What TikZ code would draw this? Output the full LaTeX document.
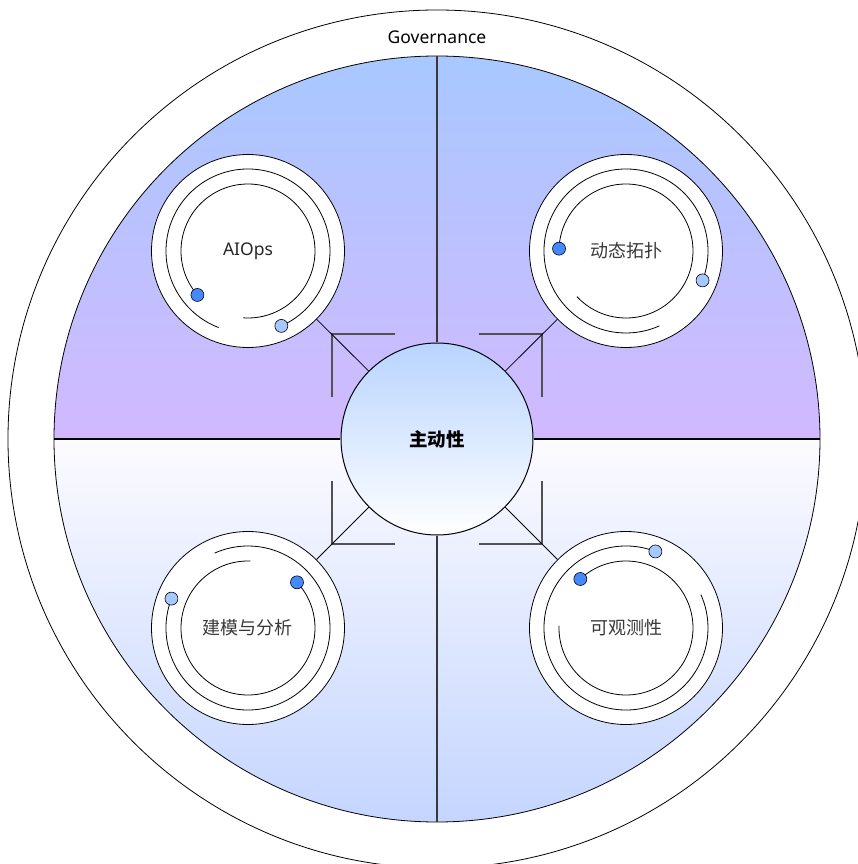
\documentclass[tikz,border=0pt]{standalone}
\usepackage{fontspec}
\setmainfont{Noto Sans}
\newfontfamily\cjk{Noto Sans CJK SC}
\usepackage{tikz}
\usetikzlibrary{positioning}
\definecolor{topblue}{HTML}{A8C8FF}
\definecolor{midpurple}{HTML}{D2B9FF}
\definecolor{paleviolet}{HTML}{FCFBFF}
\definecolor{lavender}{HTML}{E2DAFF}
\definecolor{lowblue}{HTML}{C4D5FF}
\definecolor{coreblue}{HTML}{B8D4FF}
\definecolor{dotblue}{HTML}{4589FF}
\definecolor{dotpale}{HTML}{A6C8FF}
\definecolor{bracegray}{HTML}{525252}
\definecolor{labelgray}{HTML}{393939}
\tikzset{
  font={\fontsize{17.5pt}{20pt}\selectfont},
  sat/.style={circle, draw, line width=0.8pt, fill=white, minimum size=193pt,
    inner sep=0pt, text=labelgray, font={\cjk\fontsize{18pt}{21pt}\selectfont}},
  core/.style={circle, draw, line width=1pt, top color=coreblue, bottom color=white,
    minimum size=192pt, inner sep=0pt, font={\cjk\bfseries\fontsize{18.5pt}{21pt}\selectfont}},
  track/.style={line width=0.8pt},
  dot/.style={line width=0.6pt, draw=black},
  brace/.style={draw=bracegray, line width=1.2pt},
  divider/.style={draw=labelgray, line width=1.2pt}}

\begin{document}
\begin{tikzpicture}[x=1pt, y=1pt]
\useasboundingbox (-437,-425) rectangle (420,439);
\draw[line width=0.8pt, fill=white] (0,0) circle[radius=429];
\shade[top color=topblue, bottom color=midpurple] (-383,0) arc[start angle=180, end angle=0, radius=383] -- cycle;
\shade[top color=paleviolet, middle color=lavender, bottom color=lowblue] (-383,0) arc[start angle=180, end angle=360, radius=383] -- cycle;
\draw[line width=0.8pt] (0,0) circle[radius=383];
\node (gov) at (0,402) {Governance};

\node[core] (core) at (0,0) {主动性};
\draw[divider] (0,383) -- (core.north);
\draw[divider] (core.south) -- (0,-383);
\draw[line width=1.2pt] (-383,0) -- (core.west);
\draw[line width=1.2pt] (core.east) -- (383,0);

\foreach \sx/\sy in {-1/1, 1/1, -1/-1, 1/-1}
  \draw[brace] (\sx*42,\sy*105) -- (\sx*105,\sy*105) -- (\sx*105,\sy*42);

\node[sat, font={\fontsize{17.5pt}{20pt}\selectfont}, text=black!85] (aiops) at (-189,188) {AIOps};
\node[sat] (topo) at (189,188) {动态拓扑};
\node[sat] (model) at (-189,-189) {建模与分析};
\node[sat] (obs) at (189,-189) {可观测性};

\foreach \s in {aiops, topo, model, obs}
  \draw[track] (core) -- (\s);

\foreach \s/\ia/\ma in {aiops/221/-66, topo/178/-21, model/43/159, obs/133/69}{
  \draw[track] ([shift={(\ia:67)}]\s.center) arc[start angle=\ia, delta angle=-315, radius=67];
  \draw[track] ([shift={(\ma:82)}]\s.center) arc[start angle=\ma, delta angle=315, radius=82];
  \filldraw[dot, fill=dotblue] ([shift={(\ia:67)}]\s.center) circle[radius=6.5];
  \filldraw[dot, fill=dotpale] ([shift={(\ma:82)}]\s.center) circle[radius=6.5];
}
\end{tikzpicture}
\end{document}
